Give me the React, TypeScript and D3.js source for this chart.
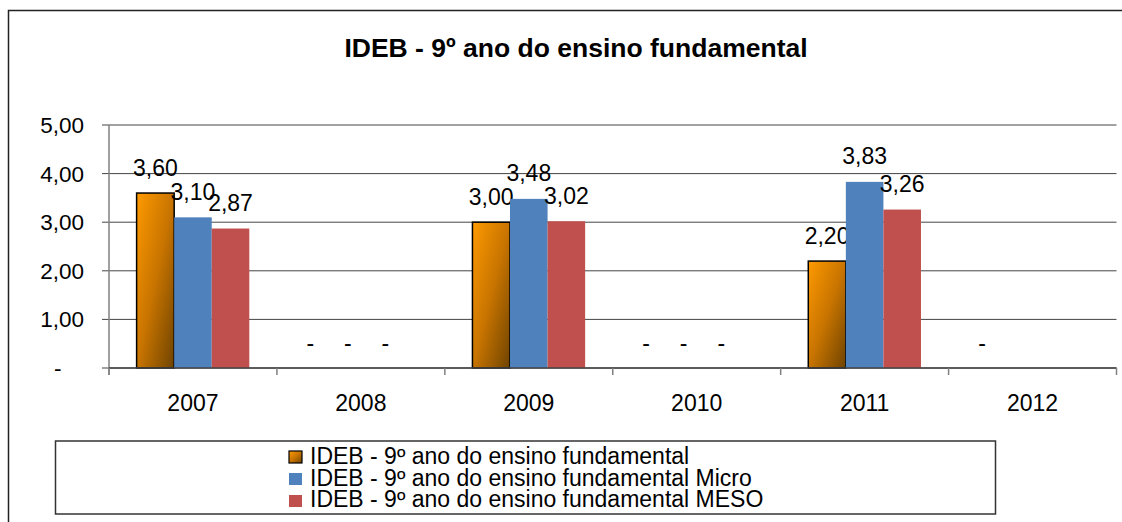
import React from "react";
import * as d3 from "d3";

const years = ["2007", "2008", "2009", "2010", "2011", "2012"];
const idebEscola: (number | null)[] = [3.6, 0, 3.0, 0, 2.2, 0];
const idebMicro: (number | null)[] = [3.1, 0, 3.48, 0, 3.83, null];
const idebMeso: (number | null)[] = [2.87, 0, 3.02, 0, 3.26, null];
const seriesNames = [
  "IDEB - 9º ano do ensino fundamental",
  "IDEB - 9º ano do ensino fundamental Micro",
  "IDEB - 9º ano do ensino fundamental MESO",
];
const yTicks = [0, 1, 2, 3, 4, 5];
const title = "IDEB - 9º ano do ensino fundamental";

const W = 1122;
const H = 522;
const FONT = "'Liberation Sans', Arial, sans-serif";
const plot = { left: 109, right: 1116.5, top: 125, bottom: 368 };
const fills = ["url(#gradOrange)", "#4F81BD", "#C0504D"];

const fmt = (v: number) =>
  v === 0 ? "-" : d3.format(".2f")(v).replace(".", ",");

export default function App() {
  const x = d3.scaleBand<string>().domain(years).range([plot.left, plot.right]).padding(0);
  const y = d3.scaleLinear().domain([0, 5]).range([plot.bottom, plot.top]);
  const bw = x.bandwidth();
  const barW = bw / 4.47;
  const inner = d3
    .scaleBand<number>()
    .domain([0, 1, 2])
    .range([(bw - 3 * barW) / 2, (bw + 3 * barW) / 2])
    .padding(0);
  const series = [idebEscola, idebMicro, idebMeso];

  return (
    <svg width={W} height={H} style={{ position: "absolute", left: 0, top: 0 }} fontFamily={FONT}>
      <defs>
        <linearGradient id="gradOrange" x1="0" y1="0" x2="1" y2="1">
          <stop offset="0" stopColor="#FF9A00" />
          <stop offset="0.5" stopColor="#C87400" />
          <stop offset="1" stopColor="#6E4300" />
        </linearGradient>
      </defs>
      <rect x={0} y={0} width={W} height={H} fill="#fff" />
      {/* outer chart border */}
      <path d={`M8.5,${H + 5} V10.5 H${W + 5}`} fill="none" stroke="#222" strokeWidth={1.5} />

      <text x={576} y={57} textAnchor="middle" fontWeight="bold" fontSize={26.5} fill="#000">
        {title}
      </text>

      {/* gridlines */}
      {yTicks.map((t) => (
        <g key={t}>
          <line x1={plot.left - 7} x2={plot.right} y1={y(t)} y2={y(t)} stroke="#444" strokeWidth={1} />
          <text x={84} y={y(t) + 8} textAnchor={t === 0 ? "start" : "end"} dx={t === 0 ? -30 : 0} fontSize={22.5} fill="#000">
            {fmt(t)}
          </text>
        </g>
      ))}
      {/* y axis */}
      <line x1={plot.left} x2={plot.left} y1={plot.top} y2={plot.bottom + 7} stroke="#808080" strokeWidth={1.5} />

      {/* bars */}
      {years.map((yr, i) =>
        series.map((s, k) => {
          const v = s[i];
          if (v === null) return null;
          const bx = (x(yr) as number) + (inner(k) as number);
          const by = y(v);
          const h = plot.bottom - by;
          return (
            <g key={`${yr}-${k}`}>
              {v > 0 && (
                <rect
                  x={bx}
                  y={by}
                  width={inner.bandwidth()}
                  height={h}
                  fill={fills[k]}
                  stroke={k === 0 ? "#000" : "none"}
                  strokeWidth={k === 0 ? 1.5 : 0}
                />
              )}
              <text
                x={bx + inner.bandwidth() / 2 + (v === 0 ? -13 : 0)}
                y={by - 17.5}
                textAnchor="middle"
                fontSize={23}
                fill="#000"
              >
                {fmt(v)}
              </text>
            </g>
          );
        })
      )}

      {/* x axis */}
      <line x1={plot.left} x2={plot.right} y1={plot.bottom} y2={plot.bottom} stroke="#444" strokeWidth={1.5} />
      {years.map((yr) => (
        <g key={yr}>
          <line x1={x(yr) as number} x2={x(yr) as number} y1={plot.bottom} y2={plot.bottom + 7} stroke="#808080" strokeWidth={1.5} />
          <text x={(x(yr) as number) + bw / 2} y={411} textAnchor="middle" fontSize={23} fill="#000">
            {yr}
          </text>
        </g>
      ))}
      <line x1={plot.right} x2={plot.right} y1={plot.bottom} y2={plot.bottom + 7} stroke="#808080" strokeWidth={1.5} />

      {/* legend */}
      <rect x={55.5} y={441} width={940} height={73} fill="#fff" stroke="#333" strokeWidth={1.5} />
      {seriesNames.map((n, k) => (
        <g key={n}>
          <rect
            x={289}
            y={451 + k * 22}
            width={13}
            height={12}
            fill={fills[k]}
            stroke={k === 0 ? "#000" : "none"}
            strokeWidth={1.2}
          />
          <text x={310} y={464 + k * 21.5} fontSize={23} fill="#000">
            {n}
          </text>
        </g>
      ))}
    </svg>
  );
}
